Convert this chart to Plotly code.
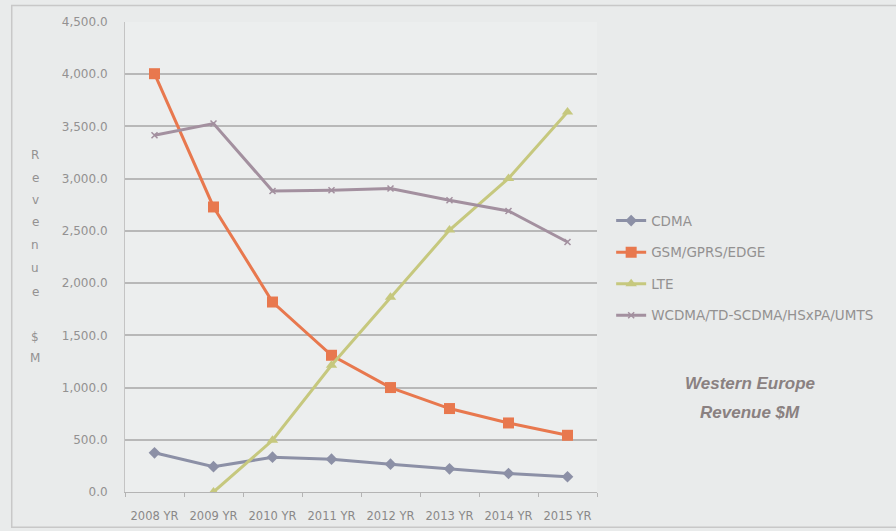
import plotly.graph_objects as go

years = ["2008 YR", "2009 YR", "2010 YR", "2011 YR", "2012 YR", "2013 YR", "2014 YR", "2015 YR"]
cdma = [375, 242, 333, 314, 266, 222, 177, 146]
gsm = [4005, 2729, 1819, 1309, 1000, 799, 661, 543]
lte = [0, 495, 1213, 1865, 2508, 3002, 3639]
lte_years = years[1:]
wcdma = [3416, 3528, 2882, 2889, 2905, 2793, 2691, 2394]

tick_vals = [0, 500, 1000, 1500, 2000, 2500, 3000, 3500, 4000, 4500]
y_title_chars = ["R", "e", "v", "e", "n", "u", "e", "$", "M"]
y_title_pix = [155, 178, 200, 222, 245, 268, 292, 337, 358]
note_lines = ["Western Europe", "Revenue $M"]
note_pix = [383, 412]

fig = go.Figure()
fig.add_trace(go.Scatter(x=years, y=cdma, name="CDMA", mode="lines+markers",
                         line=dict(color="#8c90a6", width=3),
                         marker=dict(symbol="diamond", size=9, color="#8c90a6"),
                         legendgroup="a"))
fig.add_trace(go.Scatter(x=years, y=gsm, name="GSM/GPRS/EDGE", mode="lines+markers",
                         line=dict(color="#e8784e", width=3),
                         marker=dict(symbol="square", size=11, color="#e8784e"),
                         legendgroup="b"))
fig.add_trace(go.Scatter(x=lte_years, y=lte, name="LTE", mode="lines+markers",
                         line=dict(color="#c6c87e", width=3),
                         marker=dict(symbol="triangle-up", size=10, color="#c6c87e"),
                         legendgroup="c"))
fig.add_trace(go.Scatter(x=years, y=wcdma, name="WCDMA/TD-SCDMA/HSxPA/UMTS", mode="lines+markers",
                         line=dict(color="#a3909f", width=3),
                         marker=dict(symbol="x-thin", size=6, color="#a3909f",
                                     line=dict(color="#a3909f", width=1.5)),
                         legendgroup="d"))

grey = "#939191"
fig.update_layout(
    width=896, height=531,
    margin=dict(l=125, r=299, t=22, b=39, autoexpand=False),
    paper_bgcolor="#e9ebeb",
    plot_bgcolor="#eceeee",
    font=dict(family="DejaVu Sans", color=grey, size=11),
    showlegend=True,
    legend=dict(x=1.03, xanchor="left", y=0.61, yanchor="top",
                font=dict(size=13.5, color=grey), bgcolor="rgba(0,0,0,0)",
                tracegroupgap=11, itemwidth=30),
    xaxis=dict(type="category", showgrid=False, showline=True, linecolor="#b4b4b4",
               linewidth=1, ticks="outside", tickson="boundaries", ticklen=4,
               tickcolor="#b4b4b4", tickfont=dict(size=11.5, color="#8a8888"),
               tickangle=0, automargin=False,
               ticklabelstandoff=13, range=[-0.5, 7.5]),
    yaxis=dict(range=[0, 4500], tickvals=tick_vals, tickformat=",.1f",
               showgrid=True, gridcolor="#b8b8b8", gridwidth=1.5,
               showline=True, linecolor="#c4c4c4", zeroline=False,
               ticks="", ticklen=0, ticklabelstandoff=14, automargin=False,
               tickfont=dict(size=12, color=grey)),
)

for ch, py in zip(y_title_chars, y_title_pix):
    fig.add_annotation(text=ch, xref="paper", yref="paper",
                       x=(35 - 125) / 472, y=(492 - py) / 470,
                       xanchor="center", yanchor="middle", showarrow=False,
                       font=dict(size=12, color=grey))

for line, py in zip(note_lines, note_pix):
    fig.add_annotation(text="<b><i>" + line + "</i></b>", xref="paper", yref="paper",
                       x=(750 - 125) / 472, y=(492 - py) / 470,
                       xanchor="center", yanchor="middle", showarrow=False,
                       font=dict(size=17, color="#8a8181", family="Liberation Sans"))

fig.add_shape(type="rect", xref="paper", yref="paper", x0=-0.24, x1=1.7, y0=-0.075, y1=1.035,
              line=dict(color="#c8c8c8", width=1.5), fillcolor="rgba(0,0,0,0)", layer="below")

fig.write_html("out.html")
